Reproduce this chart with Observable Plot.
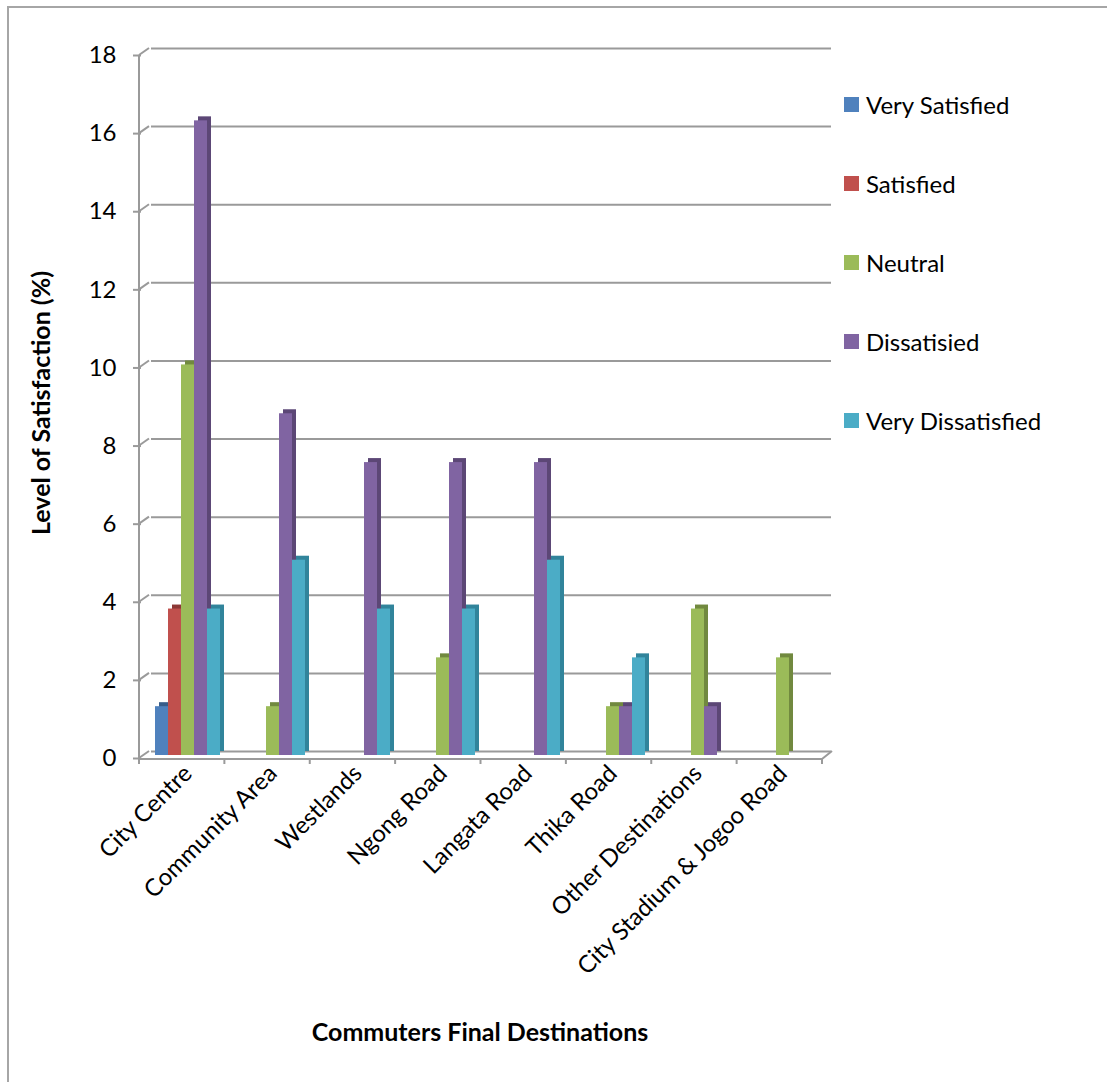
<!DOCTYPE html>
<html>
<head>
<meta charset="utf-8">
<script src="https://cdn.jsdelivr.net/npm/d3@7"></script>
<script src="https://cdn.jsdelivr.net/npm/@observablehq/plot@0.6"></script>
<style>
  body { margin: 0; background: #fff; }
  #wrap { position: relative; width: 1107px; height: 1082px; overflow: hidden; font-family: Lato, "Open Sans", sans-serif; color: #000; }
  #wrap svg { position: absolute; left: 0; top: 0; }
  #border { position: absolute; left: 7px; top: 6px; width: 1300px; height: 1300px; border-left: 2px solid #a6a6a6; border-top: 2px solid #a6a6a6; }
  .ytitle { position: absolute; left: 40px; top: 403px; transform: translate(-50%, -50%) rotate(-90deg); white-space: nowrap; font-weight: bold; font-size: 25px; }
  .xtitle { position: absolute; left: 480px; top: 1031px; transform: translate(-50%, -50%); white-space: nowrap; font-weight: bold; font-size: 25px; }
  .legend-row { position: absolute; left: 844px; display: flex; align-items: center; font-size: 24px; white-space: nowrap; }
  .legend-row span.sw { display: inline-block; width: 15px; height: 15px; margin-right: 7px; }
</style>
</head>
<body>
<div id="wrap"><div id="border"></div></div>
<script>
// ---- data ----
const categories = ["City Centre", "Community Area", "Westlands", "Ngong Road", "Langata Road", "Thika Road", "Other Destinations", "City Stadium & Jogoo Road"];
const seriesNames = ["Very Satisfied", "Satisfied", "Neutral", "Dissatisied", "Very Dissatisfied"];
const verySatisfied    = [1.25, 0, 0, 0, 0, 0, 0, 0];
const satisfied        = [3.75, 0, 0, 0, 0, 0, 0, 0];
const neutral          = [10, 1.25, 0, 2.5, 0, 1.25, 3.75, 2.5];
const dissatisfied     = [16.25, 8.75, 7.5, 7.5, 7.5, 1.25, 1.25, 0];
const veryDissatisfied = [3.75, 5, 3.75, 3.75, 5, 2.5, 0, 0];
const yTicks = [0, 2, 4, 6, 8, 10, 12, 14, 16, 18];
const colors = ["#4F81BD", "#C0504D", "#9BBB59", "#8064A2", "#4BACC6"];
const sideColors = ["#385D8A", "#8C3836", "#71893F", "#5C4776", "#31849B"];
const xTitle = "Commuters Final Destinations";
const yTitle = "Level of Satisfaction (%)";

const seriesValues = [verySatisfied, satisfied, neutral, dissatisfied, veryDissatisfied];
const rows = [];
seriesValues.forEach((vals, si) => vals.forEach((v, ci) => {
  if (v > 0) rows.push({category: categories[ci], series: seriesNames[si], si, value: v});
}));

const chart = Plot.plot({
  width: 1107, height: 1082,
  marginLeft: 143, marginRight: 281, marginTop: 52, marginBottom: 327,
  style: {fontFamily: "Lato, 'Open Sans', sans-serif", fontSize: "23px", color: "#000", background: "transparent"},
  fx: {domain: categories, padding: 0, label: null},
  x: {domain: seriesNames, paddingInner: 0, paddingOuter: 0.71, align: 0.5, axis: null},
  y: {domain: [0, 18], label: null},
  marks: [
    Plot.ruleY(yTicks, {stroke: "#9a9a9a", strokeWidth: 2, dx: 6, dy: -4}),
    Plot.barY(rows, {fx: "category", x: "series", y: "value", fill: d => sideColors[d.si], dx: 4, dy: -4}),
    Plot.barY(rows, {fx: "category", x: "series", y: "value", fill: d => colors[d.si]}),
    Plot.axisY({ticks: yTicks, tickSize: 8, tickPadding: 17, dx: -4, dy: 3, stroke: "#9a9a9a", strokeWidth: 2, fill: "#000", tickFormat: d3.format("d"), fontSize: 24, label: null}),
    Plot.axisFx({anchor: "bottom", tickRotate: -45, tickSize: 0, tickPadding: 14, fontSize: 24, fill: "#000", label: null})
  ]
});

// 3D axis decorations drawn from the plot's own scales
const y = chart.scale("y"), fx = chart.scale("fx");
const x0 = fx.range[0], x1 = fx.range[1];
const step = (x1 - x0) / categories.length;
const front = v => y.apply(v) + 3, back = v => y.apply(v) - 4;
const g = d3.select(chart).insert("g", "g").attr("stroke", "#9a9a9a").attr("stroke-width", 2).attr("fill", "none");
g.append("line").attr("x1", x0 - 4).attr("x2", x0 - 4).attr("y1", front(0) + 1).attr("y2", front(18));
yTicks.forEach(t => g.append("line").attr("x1", x0 - 4).attr("y1", front(t)).attr("x2", x0 + 6).attr("y2", back(t)));
g.append("line").attr("x1", x0 - 5).attr("x2", x1 - 4).attr("y1", front(0) + 1).attr("y2", front(0) + 1);
g.append("line").attr("x1", x1 - 4).attr("y1", front(0) + 1).attr("x2", x1 + 6).attr("y2", back(0));
categories.concat([null]).forEach((c, k) => g.append("line")
  .attr("x1", x0 - 4 + k * step).attr("x2", x0 - 4 + k * step)
  .attr("y1", front(0) + 1).attr("y2", front(0) + 6));

const wrap = document.getElementById("wrap");
wrap.appendChild(chart);

// titles
const yt = document.createElement("div"); yt.className = "ytitle"; yt.textContent = yTitle; wrap.appendChild(yt);
const xt = document.createElement("div"); xt.className = "xtitle"; xt.textContent = xTitle; wrap.appendChild(xt);

// legend
seriesNames.forEach((name, i) => {
  const row = document.createElement("div");
  row.className = "legend-row";
  row.style.top = (90 + i * 79) + "px";
  const sw = document.createElement("span"); sw.className = "sw"; sw.style.background = colors[i];
  const tx = document.createElement("span"); tx.textContent = name;
  row.appendChild(sw); row.appendChild(tx);
  wrap.appendChild(row);
});
</script>
</body>
</html>
